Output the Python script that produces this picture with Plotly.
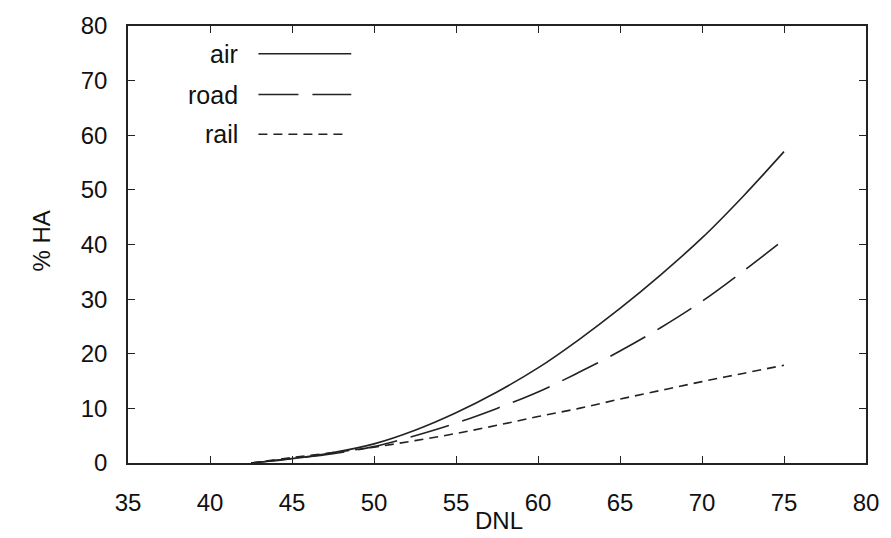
import plotly.graph_objects as go

dnl = [42.5, 45, 47.5, 50, 52.5, 55, 57.5, 60, 62.5, 65, 67.5, 70, 72.5, 75]
air = [0.0, 0.8, 1.9, 3.5, 6.0, 9.2, 13.0, 17.4, 22.6, 28.3, 34.5, 41.2, 48.8, 57.0]
road = [0.0, 0.8, 1.7, 3.0, 5.0, 7.3, 10.0, 13.0, 16.6, 20.5, 24.8, 29.6, 35.1, 40.9]
rail = [0.0, 1.0, 1.9, 2.9, 4.1, 5.4, 6.9, 8.5, 10.0, 11.7, 13.3, 14.9, 16.4, 17.9]

x_ticks = [35, 40, 45, 50, 55, 60, 65, 70, 75, 80]
y_ticks = [0, 10, 20, 30, 40, 50, 60, 70, 80]

series = [("air", air, "solid"), ("road", road, "40px,14px"), ("rail", rail, "9px,6px")]
LC = "#222222"
TC = "#111111"
FONT = "Liberation Sans, Arial, sans-serif"

fig = go.Figure()
for name, vals, dash in series:
    fig.add_trace(go.Scatter(x=dnl, y=vals, mode="lines", name=name,
                             line=dict(color=LC, width=1.6, dash=dash, shape="spline"),
                             showlegend=False))

# gnuplot-style key: label on the left, sample line on the right
W, H = 891, 538
L, R, T, B = 128, 16, 23, 75
pw, ph = W - L - R, H - T - B
def px(xp):
    return (xp - L) / pw
def py(yp):
    return (H - B - yp) / ph

annotations = []
shapes = []
key_rows = [51, 92, 132]
for (name, vals, dash), yrow in zip(series, key_rows):
    annotations.append(dict(x=px(241), y=py(yrow), xref="paper", yref="paper",
                            text=name, showarrow=False, xanchor="right", yanchor="middle",
                            font=dict(size=25, color=TC, family=FONT)))
    shapes.append(dict(type="line", xref="paper", yref="paper",
                       x0=px(260), x1=px(354 if name != "rail" else 348), y0=py(yrow), y1=py(yrow),
                       line=dict(color=LC, width=1.6, dash=dash)))

annotations.append(dict(x=px(40), y=py(240), xref="paper", yref="paper", text="% HA",
                        showarrow=False, textangle=-90, xanchor="center", yanchor="middle",
                        font=dict(size=24, color=TC, family=FONT)))
annotations.append(dict(x=px(504), y=py(521), xref="paper", yref="paper", text="DNL",
                        showarrow=False, xanchor="center", yanchor="middle",
                        font=dict(size=24, color=TC, family=FONT)))

fig.update_layout(
    width=W, height=H,
    margin=dict(l=L, r=R, t=T, b=B),
    paper_bgcolor="white", plot_bgcolor="white",
    font=dict(family=FONT, size=24, color=TC),
    annotations=annotations, shapes=shapes,
    xaxis=dict(range=[35, 80], tickvals=x_ticks, ticks="inside", ticklen=7, tickwidth=1.2,
               tickcolor=LC, showline=True, linecolor=LC, linewidth=1.6, mirror="ticks",
               showgrid=False, zeroline=False, ticklabelstandoff=17),
    yaxis=dict(range=[0, 80], tickvals=y_ticks, ticks="inside", ticklen=7, tickwidth=1.2,
               tickcolor=LC, showline=True, linecolor=LC, linewidth=1.6, mirror="ticks",
               showgrid=False, zeroline=False, ticklabelstandoff=14),
)

fig.write_html("out.html")
